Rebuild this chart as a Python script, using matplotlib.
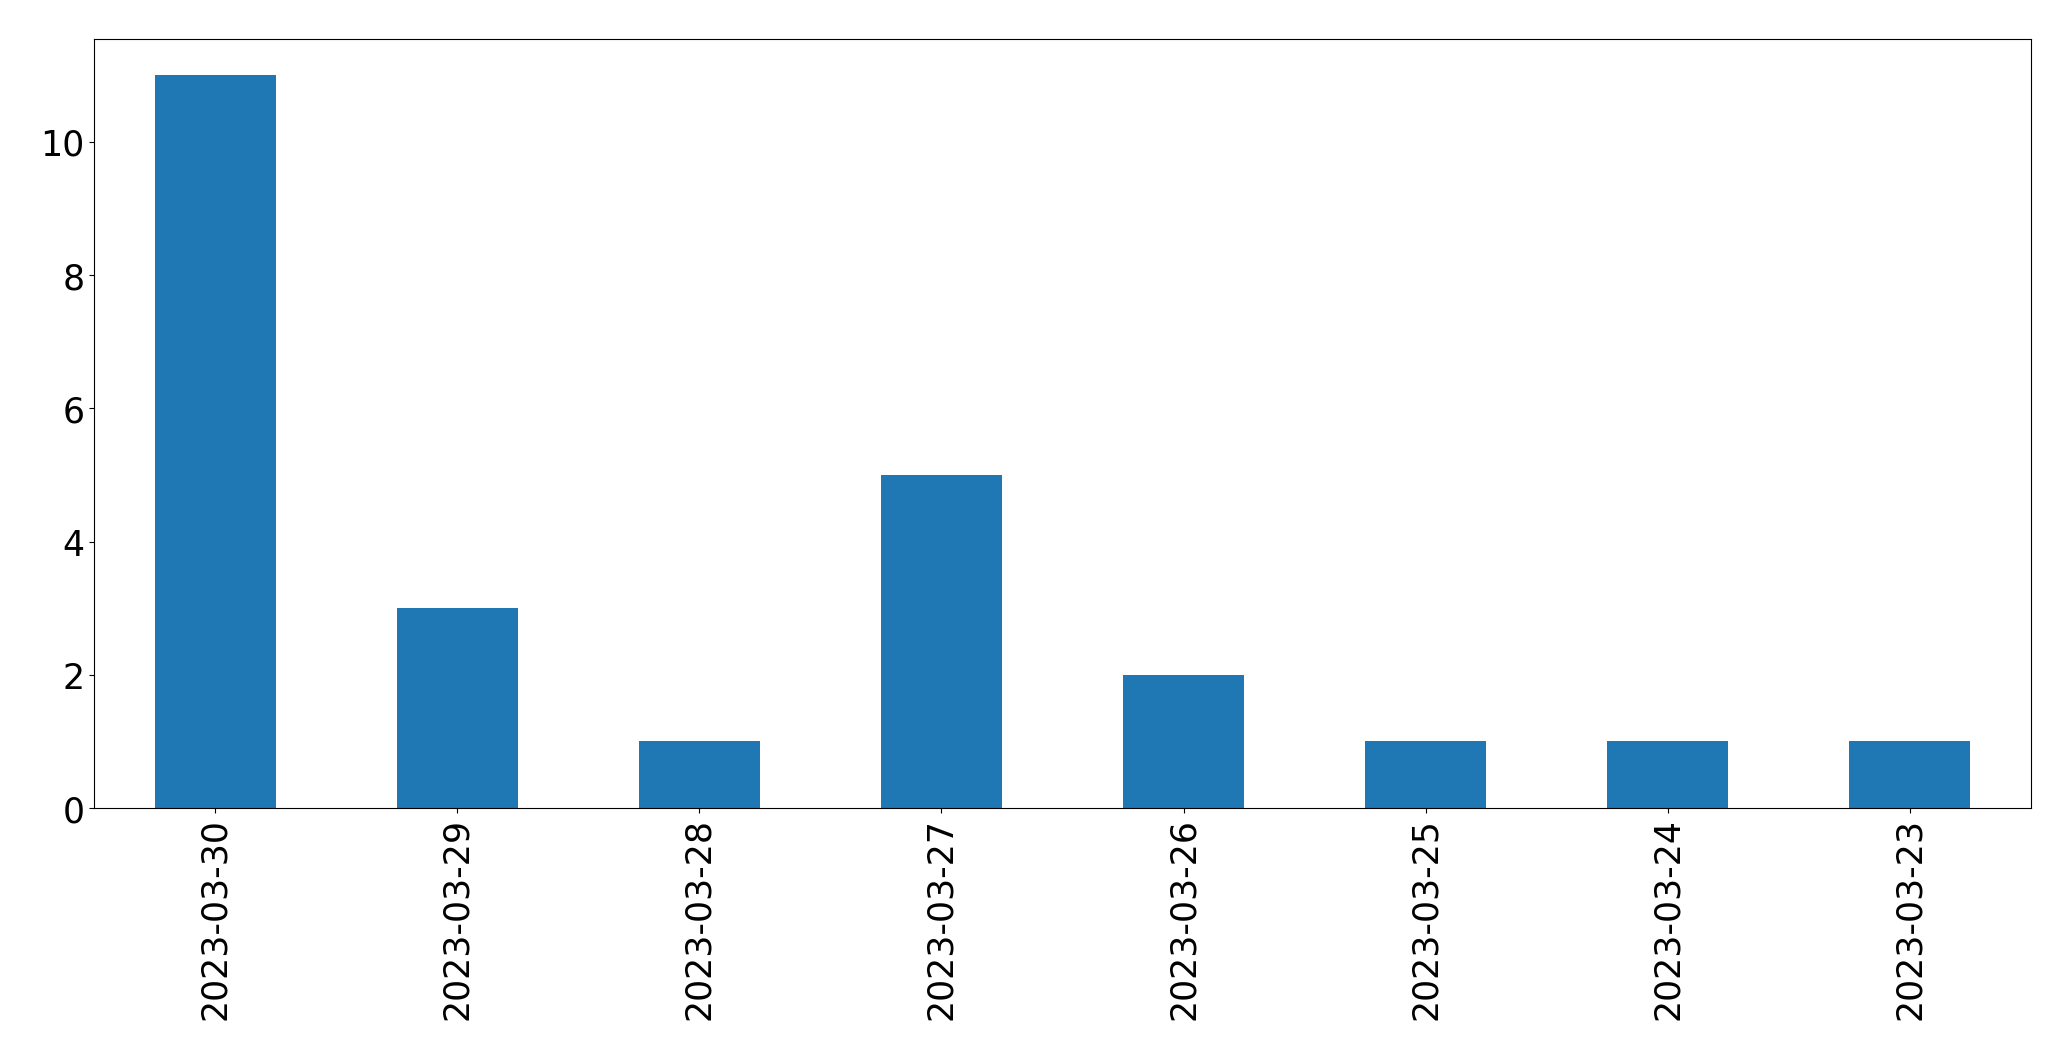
import pandas as pd
import matplotlib
matplotlib.use('Agg')
import matplotlib.pyplot as plt

dates = ['2023-03-30', '2023-03-29', '2023-03-28', '2023-03-27',
         '2023-03-26', '2023-03-25', '2023-03-24', '2023-03-23']
counts = [11, 3, 1, 5, 2, 1, 1, 1]

s = pd.Series(counts, index=dates)

fig = plt.figure(figsize=(20.71, 10.605), dpi=100)
ax = fig.add_axes([0.0454, 0.2375, 0.9353, 0.7257])
s.plot(kind='bar', ax=ax, fontsize=25)
plt.savefig('out.png', dpi=100)
